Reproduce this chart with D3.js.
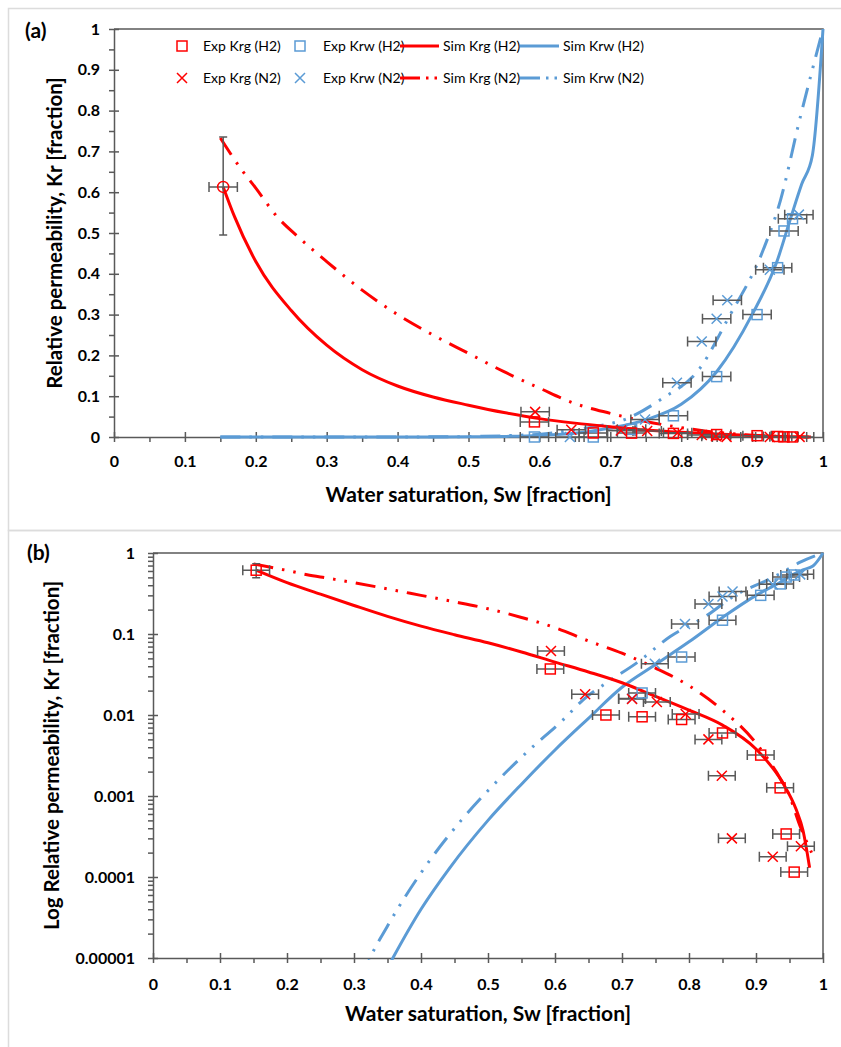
<!DOCTYPE html>
<html>
<head>
<meta charset="utf-8">
<script src="https://cdn.jsdelivr.net/npm/d3@7"></script>
<style>
body { margin: 0; background: #fff; }
text { font-family: Lato, "Open Sans", sans-serif; fill: #000; }
</style>
</head>
<body>
<div id="chart"></div>
<script>
// ---- data: [Sw, Kr] ----
var expKrgH2 = [[0.593, 0.037], [0.676, 0.0100], [0.730, 0.0095], [0.789, 0.0088], [0.850, 0.0060],
	[0.907, 0.0032], [0.936, 0.00126], [0.945, 0.00034], [0.957, 0.000115]];
var expKrwH2 = [[0.593, 0.000003], [0.676, 0.000005], [0.730, 0.0187], [0.789, 0.052], [0.850, 0.148],
	[0.907, 0.30], [0.936, 0.415], [0.945, 0.505], [0.957, 0.535]];
var expKrgN2 = [[0.594, 0.0616], [0.645, 0.018], [0.715, 0.0158], [0.752, 0.0145], [0.795, 0.0103],
	[0.829, 0.0050], [0.849, 0.00178], [0.864, 0.0003], [0.925, 0.000178], [0.967, 0.00024]];
var expKrwN2 = [[0.643, 0.000004], [0.715, 0.016], [0.749, 0.043], [0.794, 0.133], [0.829, 0.234],
	[0.850, 0.29], [0.865, 0.335], [0.925, 0.41], [0.966, 0.545]];

// end point at residual water saturation, with its Kr error range
var endPoint = [[0.154, 0.613]];
var endPointErr = [0.495, 0.735];
var swErr = 0.02;

var simKrgH2 = [[0.154, 0.613], [0.17, 0.54], [0.20, 0.43], [0.25, 0.31], [0.30, 0.225], [0.35, 0.165],
	[0.40, 0.125], [0.45, 0.098], [0.50, 0.078], [0.55, 0.060], [0.60, 0.045], [0.65, 0.034],
	[0.70, 0.025], [0.75, 0.017], [0.80, 0.0115], [0.85, 0.0075], [0.90, 0.0038], [0.94, 0.00145],
	[0.96, 0.00068], [0.97, 0.00038], [0.98, 0.00013]];
var simKrgN2 = [[0.150, 0.733], [0.18, 0.655], [0.20, 0.61], [0.23, 0.54], [0.26, 0.49], [0.30, 0.43],
	[0.35, 0.36], [0.40, 0.30], [0.45, 0.25], [0.50, 0.205], [0.55, 0.16], [0.60, 0.12], [0.65, 0.082],
	[0.70, 0.058], [0.75, 0.038], [0.80, 0.023], [0.85, 0.0115], [0.90, 0.0045], [0.93, 0.0020],
	[0.95, 0.0010], [0.966, 0.00042], [0.983, 0.0002]];
var simKrwH2 = [[0.15, 1e-9], [0.25, 1e-7], [0.32, 2.5e-6], [0.358, 1e-5], [0.40, 0.00004], [0.443, 0.00013],
	[0.50, 0.0005], [0.55, 0.0014], [0.60, 0.0037], [0.65, 0.0091], [0.70, 0.022], [0.75, 0.042],
	[0.80, 0.080], [0.85, 0.16], [0.90, 0.30], [0.935, 0.43], [0.955, 0.54], [0.97, 0.62],
	[0.985, 0.69], [1.0, 1.0]];
var simKrwN2 = [[0.15, 1e-9], [0.25, 1e-7], [0.30, 3e-6], [0.324, 1e-5], [0.349, 2.4e-5], [0.413, 0.00016],
	[0.46, 0.0005], [0.518, 0.00166], [0.56, 0.0036], [0.612, 0.0087], [0.642, 0.0154], [0.677, 0.025],
	[0.722, 0.044], [0.772, 0.093], [0.827, 0.17], [0.866, 0.29], [0.916, 0.46], [0.94, 0.58],
	[0.966, 0.77], [1.0, 1.0]];

var xTicks = [0, 0.1, 0.2, 0.3, 0.4, 0.5, 0.6, 0.7, 0.8, 0.9, 1];
var xTickLabels = ["0", "0.1", "0.2", "0.3", "0.4", "0.5", "0.6", "0.7", "0.8", "0.9", "1"];
var yTicksLin = [0, 0.1, 0.2, 0.3, 0.4, 0.5, 0.6, 0.7, 0.8, 0.9, 1];
var yTickLabelsLin = ["0", "0.1", "0.2", "0.3", "0.4", "0.5", "0.6", "0.7", "0.8", "0.9", "1"];
var yTicksLog = [1e-5, 1e-4, 1e-3, 1e-2, 1e-1, 1];
var yTickLabelsLog = ["0.00001", "0.0001", "0.001", "0.01", "0.1", "1"];

var legendRows = [
	[{ name: "Exp Krg (H2)", kind: "square", color: "#ff0000" }, { name: "Exp Krw (H2)", kind: "square", color: "#5b9bd5" },
	 { name: "Sim Krg (H2)", kind: "solid", color: "#ff0000" }, { name: "Sim Krw (H2)", kind: "solid", color: "#5b9bd5" }],
	[{ name: "Exp Krg (N2)", kind: "cross", color: "#ff0000" }, { name: "Exp Krw (N2)", kind: "cross", color: "#5b9bd5" },
	 { name: "Sim Krg (N2)", kind: "dashdot", color: "#ff0000" }, { name: "Sim Krw (N2)", kind: "dashdot", color: "#5b9bd5" }]
];

var RED = "#ff0000", BLUE = "#5b9bd5", GREY = "#595959";
var DASHDOT = "20,9,2.5,9,2.5,9";

var svg = d3.select("#chart").append("svg")
	.attr("width", 841)
	.attr("height", 1047);

// light frames round the two panels
svg.append("rect").attr("x", 8.5).attr("y", 8.5).attr("width", 840).attr("height", 522)
	.attr("fill", "none").attr("stroke", "#dcdcdc").attr("stroke-width", 1.5);
svg.append("rect").attr("x", 8.5).attr("y", 530.5).attr("width", 840).attr("height", 520)
	.attr("fill", "none").attr("stroke", "#dcdcdc").attr("stroke-width", 1.5);

function markSquare(g, pts, x, y, color) {
	g.selectAll(null).data(pts).enter().append("rect")
		.attr("x", function(d) { return x(d[0]) - 5; })
		.attr("y", function(d) { return y(d[1]) - 5; })
		.attr("width", 10).attr("height", 10)
		.attr("fill", "none").attr("stroke", color).attr("stroke-width", 1.5);
}

function markCross(g, pts, x, y, color) {
	g.selectAll(null).data(pts).enter().append("path")
		.attr("d", function(d) {
			var cx = x(d[0]), cy = y(d[1]);
			return "M" + (cx - 5) + "," + (cy - 5) + "L" + (cx + 5) + "," + (cy + 5) +
				"M" + (cx - 5) + "," + (cy + 5) + "L" + (cx + 5) + "," + (cy - 5);
		})
		.attr("fill", "none").attr("stroke", color).attr("stroke-width", 1.5);
}

function errBars(g, pts, x, y) {
	g.selectAll(null).data(pts).enter().append("path")
		.attr("d", function(d) {
			var a = x(d[0] - swErr), b = x(d[0] + swErr), cy = y(d[1]);
			return "M" + a + "," + cy + "H" + b + "M" + a + "," + (cy - 5) + "V" + (cy + 5) +
				"M" + b + "," + (cy - 5) + "V" + (cy + 5);
		})
		.attr("fill", "none").attr("stroke", GREY).attr("stroke-width", 1.5);
}

function drawPanel(p) {
	var x = d3.scaleLinear().domain([0, 1]).range([p.left, p.right]);
	var y = p.log ? d3.scaleLog().domain([1e-5, 1]).range([p.bottom, p.top])
		: d3.scaleLinear().domain([0, 1]).range([p.bottom, p.top]);
	var g = svg.append("g");
	var inRange = function(d) { return !p.log || d[1] >= 1e-5; };

	g.append("clipPath").attr("id", p.id + "-clip").append("rect")
		.attr("x", p.left).attr("y", p.top - 2)
		.attr("width", p.right - p.left + 2).attr("height", p.bottom - p.top + 4);

	// top and right border of the plot box
	g.append("path")
		.attr("d", "M" + p.left + "," + p.top + "H" + p.right + "V" + p.bottom)
		.attr("fill", "none").attr("stroke", GREY).attr("stroke-width", 1.5);

	// x axis: minor then major ticks
	var xMinor = d3.range(0.05, 1, 0.1);
	var gxm = g.append("g").attr("transform", "translate(0," + p.bottom + ")")
		.call(d3.axisBottom(x).tickValues(xMinor).tickSize(5).tickFormat(""));
	gxm.select(".domain").remove();
	var gx = g.append("g").attr("transform", "translate(0," + p.bottom + ")")
		.call(d3.axisBottom(x).tickValues(xTicks).tickSize(5).tickSizeOuter(0).tickPadding(p.xPad)
			.tickFormat(function(d, i) { return xTickLabels[i]; }));
	gx.selectAll(".tick line").attr("y1", -5);

	// y axis
	var yMinor = [];
	if (p.log) {
		yTicksLog.slice(0, -1).forEach(function(dec) {
			for (var k = 2; k < 10; k++) yMinor.push(dec * k);
		});
	} else {
		yMinor = d3.range(0.05, 1, 0.1);
	}
	var gym = g.append("g").attr("transform", "translate(" + p.left + ",0)")
		.call(d3.axisLeft(y).tickValues(yMinor).tickSize(5).tickFormat(""));
	gym.select(".domain").remove();
	var yT = p.log ? yTicksLog : yTicksLin;
	var yL = p.log ? yTickLabelsLog : yTickLabelsLin;
	var gy = g.append("g").attr("transform", "translate(" + p.left + ",0)")
		.call(d3.axisLeft(y).tickValues(yT).tickSize(5).tickSizeOuter(0).tickPadding(p.yPad)
			.tickFormat(function(d, i) { return yL[i]; }));
	gy.selectAll(".tick line").attr("x1", 5);

	[gx, gy, gxm, gym].forEach(function(a) {
		a.selectAll("line").attr("stroke", GREY).attr("stroke-width", 1.5);
		a.selectAll(".domain").attr("stroke", GREY).attr("stroke-width", 1.5);
		a.selectAll("text").style("font-size", "16px").style("font-weight", "bold");
	});

	// titles
	g.append("text").attr("x", (p.left + p.right) / 2).attr("y", p.xTitleY)
		.attr("text-anchor", "middle").style("font-size", "21px").style("font-weight", "bold")
		.text("Water saturation, Sw [fraction]");
	g.append("text").attr("transform", "translate(" + p.yTitleX + "," + (p.top + p.bottom) / 2 + ") rotate(-90)")
		.attr("text-anchor", "middle").style("font-size", "20.5px").style("font-weight", "bold")
		.text(p.yTitle);
	g.append("text").attr("x", p.tagX).attr("y", p.tagY)
		.style("font-size", "21px").style("font-weight", "bold").text(p.tag);

	// simulated curves
	var line = d3.line().curve(d3.curveMonotoneX)
		.x(function(d) { return x(d[0]); }).y(function(d) { return y(d[1]); });
	var lines = g.append("g").attr("clip-path", "url(#" + p.id + "-clip)");
	[[simKrwN2, BLUE, DASHDOT], [simKrwH2, BLUE, null], [simKrgN2, RED, DASHDOT], [simKrgH2, RED, null]]
		.forEach(function(s) {
			lines.append("path").attr("d", line(s[0]))
				.attr("fill", "none").attr("stroke", s[1]).attr("stroke-width", 3)
				.attr("stroke-dasharray", s[2]);
		});

	// experimental points with their saturation error bars
	var all = expKrgH2.concat(expKrwH2, expKrgN2, expKrwN2, endPoint).filter(inRange);
	errBars(g, all, x, y);
	var ep = endPoint[0];
	g.append("path")
		.attr("d", "M" + x(ep[0]) + "," + y(endPointErr[0]) + "V" + y(endPointErr[1]) +
			"M" + (x(ep[0]) - 4) + "," + y(endPointErr[0]) + "h8" +
			"M" + (x(ep[0]) - 4) + "," + y(endPointErr[1]) + "h8")
		.attr("fill", "none").attr("stroke", GREY).attr("stroke-width", 1.5);

	markSquare(g, expKrwH2.filter(inRange), x, y, BLUE);
	markCross(g, expKrwN2.filter(inRange), x, y, BLUE);
	markSquare(g, expKrgH2.filter(inRange), x, y, RED);
	markCross(g, expKrgN2.filter(inRange), x, y, RED);
	if (p.log) {
		markSquare(g, endPoint, x, y, RED);
	} else {
		g.selectAll(null).data(endPoint).enter().append("circle")
			.attr("cx", function(d) { return x(d[0]); })
			.attr("cy", function(d) { return y(d[1]); })
			.attr("r", 5.5).attr("fill", "none").attr("stroke", RED).attr("stroke-width", 1.5);
	}
}

drawPanel({ id: "a", left: 114, right: 823, top: 29, bottom: 437, log: false, xPad: 13.5, yPad: 9,
	xTitleY: 502, yTitleX: 62, yTitle: "Relative permeability, Kr [fraction]", tag: "(a)", tagX: 25, tagY: 38 });
drawPanel({ id: "b", left: 153, right: 823, top: 553, bottom: 958, log: true, xPad: 15.5, yPad: 13,
	xTitleY: 1021, yTitleX: 59, yTitle: "Log Relative permeability, Kr [fraction]", tag: "(b)", tagX: 27, tagY: 560 });

// legend (panel a)
var legX = [[182, 203], [300, 323], [400, 443], [520, 563]];
var legY = [46, 78];
legendRows.forEach(function(row, r) {
	row.forEach(function(it, c) {
		var lg = svg.append("g");
		var cy = legY[r], mx = legX[c][0];
		if (it.kind === "square") {
			lg.append("rect").attr("x", mx - 5).attr("y", cy - 5).attr("width", 10).attr("height", 10)
				.attr("fill", "none").attr("stroke", it.color).attr("stroke-width", 1.5);
		} else if (it.kind === "cross") {
			lg.append("path").attr("d", "M" + (mx - 5) + "," + (cy - 5) + "l10,10M" + (mx - 5) + "," + (cy + 5) + "l10,-10")
				.attr("fill", "none").attr("stroke", it.color).attr("stroke-width", 1.5);
		} else {
			lg.append("line").attr("x1", mx).attr("x2", mx + 39).attr("y1", cy).attr("y2", cy)
				.attr("stroke", it.color).attr("stroke-width", 3)
				.attr("stroke-dasharray", it.kind === "dashdot" ? "20,6,2.5,6,2.5,10" : null);
		}
		lg.append("text").attr("x", legX[c][1]).attr("y", cy).attr("dy", "0.35em")
			.style("font-size", "14px").text(it.name);
	});
});
</script>
</body>
</html>
